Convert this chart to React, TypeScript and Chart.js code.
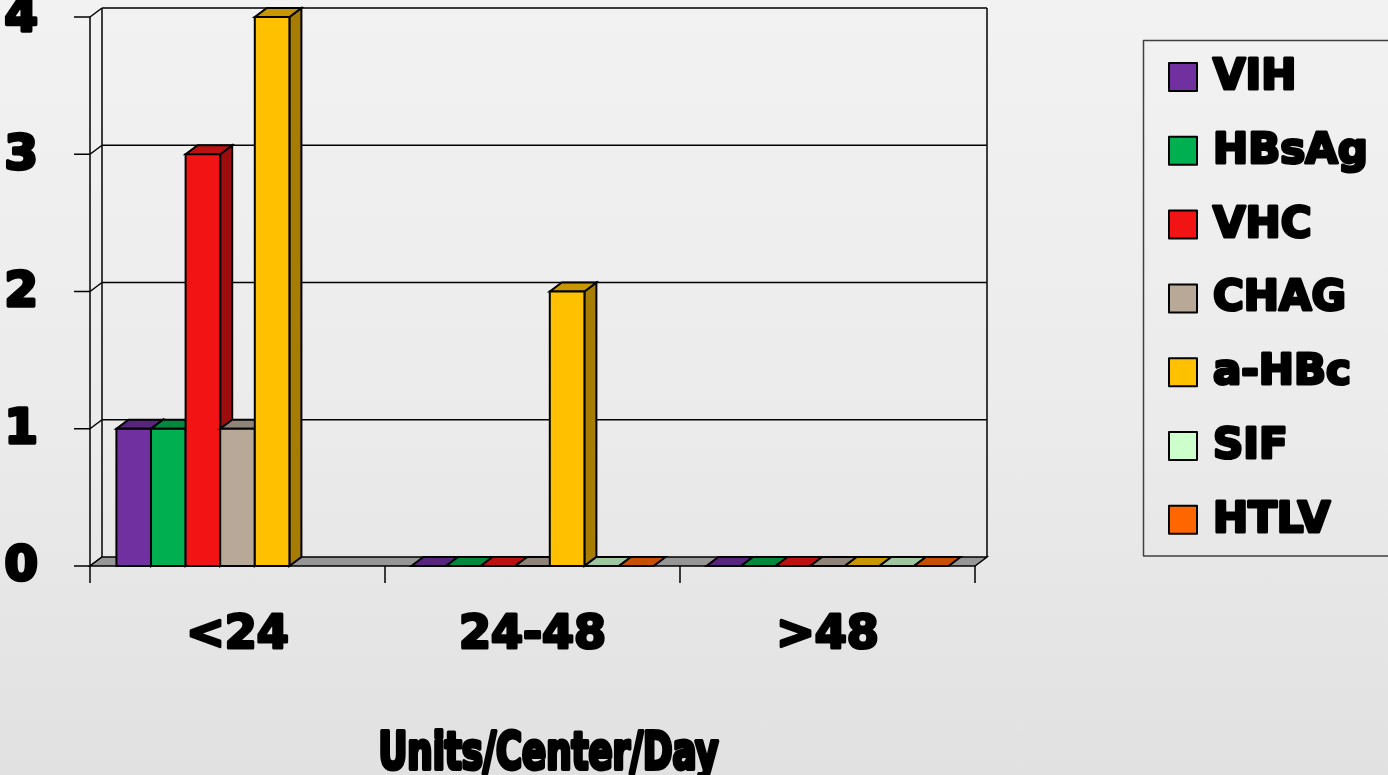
import React, { useEffect, useRef } from 'react';
import { Chart, registerables } from 'chart.js';

Chart.register(...registerables);

// ---- data ----
const categories = ['<24', '24-48', '>48'];
const seriesNames = ['VIH', 'HBsAg', 'VHC', 'CHAG', 'a-HBc', 'SIF', 'HTLV'];
const VIH = [1, 0, 0];
const HBsAg = [1, 0, 0];
const VHC = [3, 0, 0];
const CHAG = [1, 0, 0];
const aHBc = [4, 2, 0];
const SIF = [null, 0, 0];
const HTLV = [null, 0, 0];
const yTicks = [0, 1, 2, 3, 4];
const seriesColors = ['#7030A0', '#00B050', '#F21414', '#B8A898', '#FFC000', '#CCFFCC', '#FF6600'];
const axisTitle = 'Units/Center/Day';

const seriesValues = [VIH, HBsAg, VHC, CHAG, aHBc, SIF, HTLV];

const DX = 12;
const DY = -9;

function shade(hex: string, f: number): string {
  const n = parseInt(hex.slice(1), 16);
  const r = Math.round(((n >> 16) & 255) * f);
  const g = Math.round(((n >> 8) & 255) * f);
  const b = Math.round((n & 255) * f);
  return `rgb(${r},${g},${b})`;
}

function poly(ctx: CanvasRenderingContext2D, pts: number[][], fill: string | null) {
  ctx.beginPath();
  ctx.moveTo(pts[0][0], pts[0][1]);
  for (let i = 1; i < pts.length; i++) ctx.lineTo(pts[i][0], pts[i][1]);
  ctx.closePath();
  if (fill) {
    ctx.fillStyle = fill;
    ctx.fill();
  }
  ctx.stroke();
}

function line(ctx: CanvasRenderingContext2D, x0: number, y0: number, x1: number, y1: number) {
  ctx.beginPath();
  ctx.moveTo(x0, y0);
  ctx.lineTo(x1, y1);
  ctx.stroke();
}

const heavy = '"DejaVu Sans", "Liberation Sans", sans-serif';

function heavyText(ctx: CanvasRenderingContext2D, t: string, x: number, y: number, w: number) {
  ctx.lineWidth = w;
  ctx.strokeText(t, x, y);
  ctx.fillText(t, x, y);
}

const threeDPlugin = {
  id: 'threeD',
  beforeDatasetsDraw(chart: any) {
    const ctx: CanvasRenderingContext2D = chart.ctx;
    const xs = chart.scales.x;
    const ys = chart.scales.y;
    const { left, right, top, bottom } = chart.chartArea;
    ctx.save();
    ctx.strokeStyle = '#000';
    ctx.lineWidth = 1.5;
    ctx.lineJoin = 'miter';

    // walls & gridlines
    yTicks.forEach((v) => {
      const py = ys.getPixelForValue(v);
      if (v > 0) line(ctx, left + DX, py + DY, right + DX, py + DY);
      line(ctx, left, py, left + DX, py + DY);
      line(ctx, left - 16, py, left, py);
    });
    line(ctx, left, top, left, bottom);
    line(ctx, left + DX, top + DY, left + DX, bottom + DY);
    line(ctx, right + DX, top + DY, right + DX, bottom + DY);

    // floor
    poly(ctx, [[left, bottom], [right, bottom], [right + DX, bottom + DY], [left + DX, bottom + DY]], '#969696');

    // category ticks
    for (let i = 0; i <= categories.length; i++) {
      const px = xs.getPixelForValue(i - 0.5);
      line(ctx, px, bottom, px, bottom + 17);
    }

    // bars, left to right
    ctx.lineWidth = 2;
    for (let i = 0; i < categories.length; i++) {
      chart.data.datasets.forEach((ds: any, d: number) => {
        if (ds.data[i] == null) return;
        const el = chart.getDatasetMeta(d).data[i];
        if (!el) return;
        const col = seriesColors[d];
        const x0 = el.x - el.width / 2;
        const x1 = el.x + el.width / 2;
        const ty = el.y;
        const base = el.base;
        if (base - ty > 0.5) {
          poly(ctx, [[x1, ty], [x1 + DX, ty + DY], [x1 + DX, base + DY], [x1, base]], shade(col, 0.65));
        }
        poly(ctx, [[x0, ty], [x1, ty], [x1 + DX, ty + DY], [x0 + DX, ty + DY]], shade(col, 0.78));
        if (base - ty > 0.5) {
          poly(ctx, [[x0, ty], [x1, ty], [x1, base], [x0, base]], col);
        }
      });
    }
    ctx.restore();
    return false;
  },
  afterDraw(chart: any) {
    const ctx: CanvasRenderingContext2D = chart.ctx;
    const xs = chart.scales.x;
    const ys = chart.scales.y;
    const { left, right, bottom } = chart.chartArea;
    ctx.save();
    ctx.fillStyle = '#000';
    ctx.strokeStyle = '#000';
    ctx.lineJoin = 'round';

    // y tick labels
    ctx.font = `bold 48px ${heavy}`;
    ctx.textAlign = 'right';
    ctx.textBaseline = 'middle';
    yTicks.forEach((v) => {
      const py = ys.getPixelForValue(v) + 2;
      heavyText(ctx, String(v), 38, py, 3.5);
    });

    // category labels
    ctx.font = `bold 46px ${heavy}`;
    ctx.textAlign = 'center';
    categories.forEach((c, i) => {
      const px = xs.getPixelForValue(i);
      heavyText(ctx, c, px, bottom + 70, 3);
    });

    // axis title (condensed)
    ctx.font = `bold 51px "DejaVu Sans Condensed", "DejaVu Sans", sans-serif`;
    ctx.textBaseline = 'alphabetic';
    ctx.textAlign = 'left';
    const tw = ctx.measureText(axisTitle).width;
    const target = 340;
    const sx = target / tw;
    const cx = (left + right) / 2 + 16;
    ctx.save();
    ctx.translate(cx - target / 2, 769);
    ctx.scale(sx, 1);
    heavyText(ctx, axisTitle, 0, 0, 4);
    ctx.restore();

    // legend
    ctx.lineWidth = 1.5;
    ctx.strokeStyle = '#404040';
    ctx.strokeRect(1143.5, 40.5, 300, 515.5);
    ctx.font = `bold 42px ${heavy}`;
    ctx.textAlign = 'left';
    ctx.textBaseline = 'middle';
    seriesNames.forEach((name, i) => {
      const ry = 77 + 73.8 * i;
      ctx.strokeStyle = '#000';
      ctx.lineWidth = 2;
      ctx.fillStyle = seriesColors[i];
      ctx.fillRect(1169, ry - 14, 28, 28);
      ctx.strokeRect(1169, ry - 14, 28, 28);
      ctx.fillStyle = '#000';
      heavyText(ctx, name, 1213, ry + 1, 3);
    });
    ctx.restore();
  },
};

export default function App() {
  const ref = useRef<HTMLCanvasElement | null>(null);
  useEffect(() => {
    if (!ref.current) return;
    const chart = new Chart(ref.current, {
      type: 'bar',
      data: {
        labels: categories,
        datasets: seriesNames.map((name, i) => ({
          label: name,
          data: seriesValues[i] as any,
          backgroundColor: seriesColors[i],
          borderColor: '#000',
          borderWidth: 2,
          categoryPercentage: 0.821,
          barPercentage: 1,
        })),
      },
      options: {
        animation: false,
        responsive: true,
        maintainAspectRatio: false,
        layout: { padding: { left: 90, top: 17, right: 413, bottom: 209 } },
        plugins: { legend: { display: false }, tooltip: { enabled: false } },
        scales: {
          x: { display: false, offset: true },
          y: { display: false, min: 0, max: 4 },
        },
      },
      plugins: [threeDPlugin],
    });
    return () => chart.destroy();
  }, []);

  return (
    <div
      style={{
        position: 'fixed',
        left: 0,
        top: 0,
        width: 1388,
        height: 775,
        background: 'linear-gradient(180deg, #f2f2f2 0%, #ebebeb 55%, #e1e1e1 100%)',
      }}
    >
      <canvas ref={ref} />
    </div>
  );
}
